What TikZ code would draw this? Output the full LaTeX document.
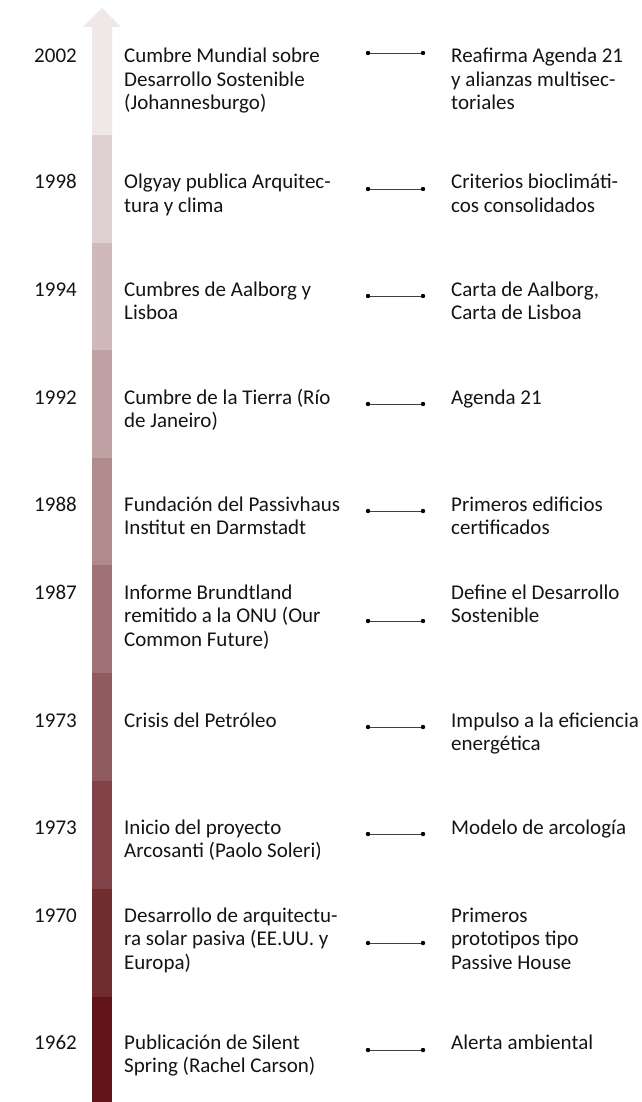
\documentclass[tikz,border=0pt]{standalone}
\usepackage{fontspec}
\setmainfont{Carlito}
\definecolor{s0}{RGB}{97,20,25}
\definecolor{s1}{RGB}{113,44,48}
\definecolor{s2}{RGB}{129,67,71}
\definecolor{s3}{RGB}{144,91,94}
\definecolor{s4}{RGB}{160,114,117}
\definecolor{s5}{RGB}{176,138,140}
\definecolor{s6}{RGB}{192,161,164}
\definecolor{s7}{RGB}{207,185,187}
\definecolor{s8}{RGB}{223,208,210}
\definecolor{s9}{RGB}{239,232,233}
\definecolor{txt}{RGB}{20,20,20}
\tikzset{
  yearlbl/.style={anchor=base east, inner sep=0pt, text=txt, font=\fontsize{21}{23.5}\selectfont},
  eventlbl/.style={anchor=base west, inner sep=0pt, text=txt, font=\fontsize{21}{23.5}\selectfont},
  conn/.style={draw=black!75, line width=0.8pt},
  dotmark/.style={fill=black, draw=none},
}
\newcommand{\lines}[1]{\begin{tabular}[t]{@{}l@{}}#1\end{tabular}}
\newcommand{\tlentry}[7]{%
  % #1 id, #2 year, #3 baseline, #4 left text, #5 right text, #6 connector y
  \node[yearlbl] (y#1) at (77,#3) {#2};
  \node[eventlbl] (e#1) at (124,#3) {\lines{#4}};
  \node[eventlbl] (r#1) at (451,#3) {\lines{#5}};
  \coordinate (ca#1) at (368,#6);
  \coordinate (cb#1) at (423,#6);
  \draw[conn] (ca#1) -- (cb#1);
  \fill[dotmark] (ca#1) circle (2.2);
  \fill[dotmark] (cb#1) circle (2.2);
}
\begin{document}
\begin{tikzpicture}[x=1pt,y=-1pt]
\useasboundingbox (0,0) rectangle (641,1102);
% timeline arrow
\fill[s9] (92,136) -- (92,27) -- (83,27) -- (102,8) -- (121,27) -- (112,27) -- (112,136) -- cycle;
\fill[s8] (92,135) rectangle (112,243.5);
\fill[s7] (92,243) rectangle (112,350.5);
\fill[s6] (92,350) rectangle (112,458.5);
\fill[s5] (92,458) rectangle (112,565.5);
\fill[s4] (92,565) rectangle (112,673.5);
\fill[s3] (92,673) rectangle (112,781.5);
\fill[s2] (92,781) rectangle (112,889.5);
\fill[s1] (92,889) rectangle (112,997.5);
\fill[s0] (92,997) rectangle (112,1102);
% entries
\tlentry{a}{2002}{63}{Cumbre Mundial sobre\\Desarrollo Sostenible\\(Johannesburgo)}{Reafirma Agenda 21\\y alianzas multisec-\\toriales}{53}{}
\tlentry{b}{1998}{189}{Olgyay publica Arquitec-\\tura y clima}{Criterios bioclimáti-\\cos consolidados}{189}{}
\tlentry{c}{1994}{296}{Cumbres de Aalborg y\\Lisboa}{Carta de Aalborg,\\Carta de Lisboa}{296}{}
\tlentry{d}{1992}{404}{Cumbre de la Tierra (Río\\de Janeiro)}{Agenda 21}{404}{}
\tlentry{e}{1988}{511}{Fundación del Passivhaus\\Institut en Darmstadt}{Primeros edificios\\certificados}{511}{}
\tlentry{f}{1987}{599}{Informe Brundtland\\remitido a la ONU (Our\\Common Future)}{Define el Desarrollo\\Sostenible}{621}{}
\tlentry{g}{1973}{727}{Crisis del Petróleo}{Impulso a la eficiencia\\energética}{727}{}
\tlentry{h}{1973}{834}{Inicio del proyecto\\Arcosanti (Paolo Soleri)}{Modelo de arcología}{834}{}
\tlentry{i}{1970}{922}{Desarrollo de arquitectu-\\ra solar pasiva (EE.UU. y\\Europa)}{Primeros\\prototipos tipo\\Passive House}{943}{}
\tlentry{j}{1962}{1049}{Publicación de Silent\\Spring (Rachel Carson)}{Alerta ambiental}{1050}{}
\end{tikzpicture}
\end{document}
